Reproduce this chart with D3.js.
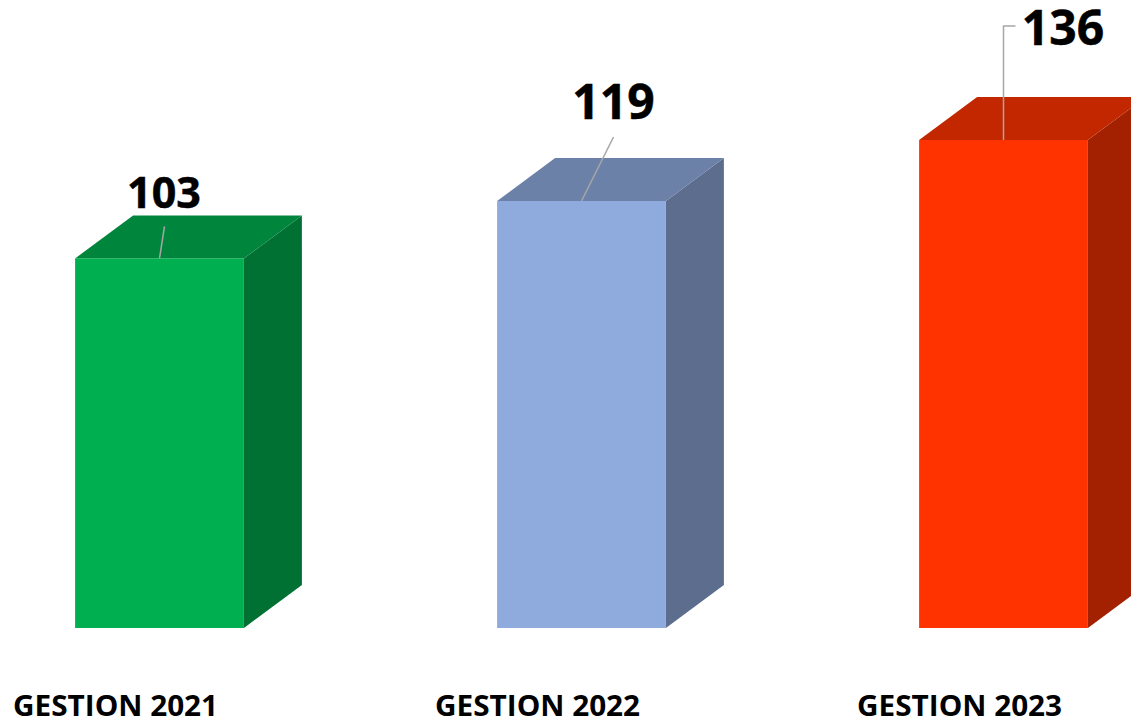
<!DOCTYPE html>
<html>
<head>
<meta charset="utf-8">
<script src="https://cdn.jsdelivr.net/npm/d3@7"></script>
<style>
    html, body { margin: 0; padding: 0; background: #fff; overflow: hidden; }
    text { font-family: "Open Sans", sans-serif; font-weight: 700; fill: #000; }
</style>
</head>
<body>
<div id="viz"></div>
<script>
var WIDTH = 1131
var HEIGHT = 721

// data
const categories = ['GESTION 2021', 'GESTION 2022', 'GESTION 2023'];
const values = [103, 119, 136];

// colours per bar
const frontColors = ['#00B050', '#8FAADC', '#FF3300'];
const topColors = ['#00863C', '#6C81A8', '#C22700'];
const sideColors = ['#007033', '#5C6D8D', '#A32100'];

// label placement, relative to the top centre of each bar
const labelDx = [4.5, 32, 59.5];
const labelDy = [-50, -82, -95];
const labelSize = [43, 48, 48];
const leaderEnd = [[5, -32], [32, -64], [0, -114, 12, -114]];

const DEPTH_X = 58, DEPTH_Y = 43;

const x = d3.scaleBand()
    .domain(categories)
    .range([-51.5, 1214.5])
    .paddingInner(0.6)
    .paddingOuter(0.3);

const y = d3.scaleLinear()
    .domain([0, 136])
    .range([628, 140]);

const svg = d3.select('#viz').append('svg')
    .attr('width', WIDTH)
    .attr('height', HEIGHT);

const bars = svg.selectAll('g.bar')
    .data(categories)
    .enter()
    .append('g')
    .attr('class', 'bar');

function poly(points) {
    return d3.line()(points) + 'Z';
}

// right side
bars.append('path')
    .attr('fill', (d, i) => sideColors[i])
    .attr('d', (d, i) => {
        const r = x(d) + x.bandwidth();
        return poly([[r, y(values[i])], [r + DEPTH_X, y(values[i]) - DEPTH_Y], [r + DEPTH_X, y(0) - DEPTH_Y], [r, y(0)]]);
    });

// top
bars.append('path')
    .attr('fill', (d, i) => topColors[i])
    .attr('d', (d, i) => {
        const l = x(d), r = l + x.bandwidth(), t = y(values[i]);
        return poly([[l, t], [l + DEPTH_X, t - DEPTH_Y], [r + DEPTH_X, t - DEPTH_Y], [r, t]]);
    });

// front
bars.append('rect')
    .attr('fill', (d, i) => frontColors[i])
    .attr('x', d => x(d))
    .attr('y', (d, i) => y(values[i]))
    .attr('width', x.bandwidth())
    .attr('height', (d, i) => y(0) - y(values[i]));

// leader lines
bars.append('path')
    .attr('fill', 'none')
    .attr('stroke', '#A6A6A6')
    .attr('stroke-width', 1.5)
    .attr('d', (d, i) => {
        const cx = x(d) + x.bandwidth() / 2, t = y(values[i]);
        const e = leaderEnd[i];
        let p = 'M' + cx + ',' + t;
        for (let k = 0; k < e.length; k += 2) {
            p += 'L' + (cx + e[k]) + ',' + (t + e[k + 1]);
        }
        return p;
    });

// value labels
bars.append('text')
    .attr('text-anchor', 'middle')
    .attr('font-size', (d, i) => labelSize[i])
    .attr('stroke', '#000')
    .attr('stroke-width', 0.5)
    .attr('x', (d, i) => x(d) + x.bandwidth() / 2 + labelDx[i])
    .attr('y', (d, i) => y(values[i]) + labelDy[i])
    .text((d, i) => values[i]);

// category labels
bars.append('text')
    .attr('font-size', 29)
    .attr('x', d => x(d) - 62)
    .attr('y', 716)
    .attr('textLength', 205)
    .attr('lengthAdjust', 'spacingAndGlyphs')
    .text(d => d);
</script>
</body>
</html>
